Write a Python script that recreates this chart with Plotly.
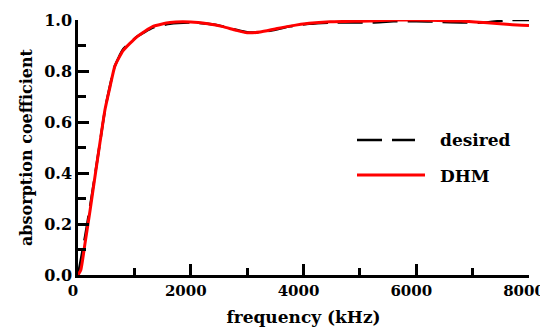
import plotly.graph_objects as go

freq = [0, 50, 125, 215, 300, 390, 480, 570, 655, 800, 1050, 1330, 1630, 2000,
        2300, 2570, 2800, 3000, 3230, 3500, 3760, 4100, 4470, 5180, 5600, 6000,
        6400, 6800, 7200, 7660, 8000]
desired = [0, 0.06, 0.15, 0.27, 0.39, 0.52, 0.65, 0.745, 0.82, 0.885, 0.935,
           0.97, 0.985, 0.99, 0.985, 0.975, 0.962, 0.952, 0.952, 0.962, 0.975,
           0.985, 0.99, 0.99, 0.995, 0.995, 0.993, 0.99, 0.99, 1.0, 1.0]
dhm = [0, 0.02, 0.125, 0.255, 0.384, 0.52, 0.65, 0.74, 0.82, 0.88, 0.935,
       0.975, 0.99, 0.992, 0.985, 0.974, 0.96, 0.95, 0.953, 0.965, 0.976,
       0.987, 0.993, 0.996, 1.0, 1.0, 0.998, 0.996, 0.99, 0.982, 0.978]

series_names = ["desired", "DHM"]
x_ticks = [0, 2000, 4000, 6000, 8000]
y_ticks = [0.0, 0.2, 0.4, 0.6, 0.8, 1.0]

FONT = "DejaVu Serif"
OFF = 8  # default page body margin

fig = go.Figure()
fig.add_trace(go.Scatter(x=freq, y=desired, mode="lines", name=series_names[0],
                         line=dict(color="black", width=2.5, dash="25px,10px", shape="spline", smoothing=0.5),
                         showlegend=False))
fig.add_trace(go.Scatter(x=freq, y=dhm, mode="lines", name=series_names[1],
                         line=dict(color="#ff0000", width=3, shape="spline", smoothing=0.5),
                         showlegend=False))

# layout in page pixels (reference) -> figure pixels
W, H = 548 - OFF, 333 - OFF
L, T = 78 - OFF, 20 - OFF
R = W - (529 - OFF)
B = H - (275 - OFF)
pw, ph = W - L - R, H - T - B

def px2paper(x, y):
    return (x - OFF - L) / pw, (H - B - (y - OFF)) / ph

# manual legend (styling only)
x0, y0 = px2paper(357, 140)
x1, _ = px2paper(415, 140)
fig.add_shape(type="line", xref="paper", yref="paper", x0=x0, x1=x1, y0=y0, y1=y0,
              line=dict(color="black", width=2.5, dash="25px,10px"))
x0, y1 = px2paper(357, 175)
x1, _ = px2paper(425, 175)
fig.add_shape(type="line", xref="paper", yref="paper", x0=x0, x1=x1, y0=y1, y1=y1,
              line=dict(color="#ff0000", width=3))
tx, _ = px2paper(440, 0)
fig.add_annotation(xref="paper", yref="paper", x=tx, y=y0, text="<b>desired</b>",
                   showarrow=False, xanchor="left", yanchor="middle", xshift=-2,
                   font=dict(family=FONT, size=17, color="black"))
_, ty = px2paper(0, 176)
fig.add_annotation(xref="paper", yref="paper", x=tx, y=ty, text="<b>DHM</b>",
                   showarrow=False, xanchor="left", yanchor="middle", xshift=-2,
                   font=dict(family=FONT, size=17, color="black"))

axis_common = dict(showline=True, linecolor="black", linewidth=2.5, showgrid=False,
                   zeroline=False, ticks="inside", tickcolor="black", tickwidth=2.5,
                   mirror=False)

fig.update_xaxes(range=[0, 8000], tickvals=x_ticks, ticklen=11, ticklabelshift=-5,
                 tickfont=dict(family=FONT, size=15, color="black", weight="bold"),
                 minor=dict(dtick=1000, ticklen=7, ticks="inside", tickcolor="black", tickwidth=2.5),
                 title=dict(text="<b>frequency (kHz)</b>", font=dict(family=FONT, size=17, color="black"), standoff=13),
                 **axis_common)
fig.update_yaxes(range=[0, 1], tickvals=y_ticks, tickformat=".1f", ticklen=11,
                 tickfont=dict(family=FONT, size=16, color="black", weight="bold"),
                 minor=dict(dtick=0.1, ticklen=8, ticks="inside", tickcolor="black", tickwidth=2.5),
                 title=dict(text="<b>absorption coefficient</b>", font=dict(family=FONT, size=16, color="black"), standoff=8),
                 **axis_common)

fig.update_layout(width=W, height=H, margin=dict(l=L, r=R, t=T, b=B, autoexpand=False),
                  paper_bgcolor="white", plot_bgcolor="white", showlegend=False)

fig.write_html("out.html")
